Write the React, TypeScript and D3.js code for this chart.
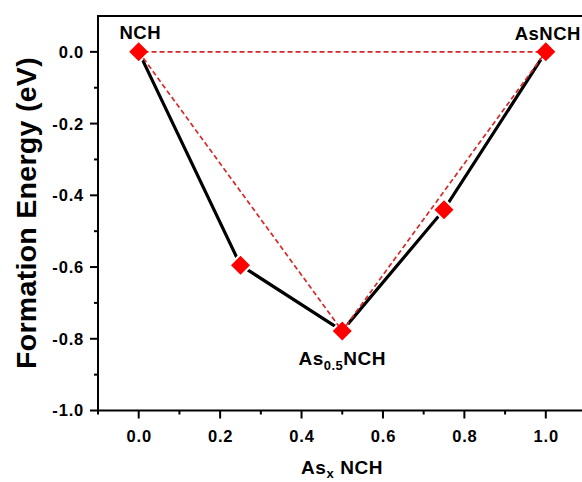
import React from "react";
import * as d3 from "d3";

const xValues = [0, 0.25, 0.5, 0.75, 1.0];
const yValues = [0, -0.595, -0.778, -0.44, 0];
const hullX = [0, 0.5, 1.0, 0];
const hullY = [0, -0.778, 0, 0];
const xTicks = [0, 0.2, 0.4, 0.6, 0.8, 1.0];
const xMinor = [-0.1, 0.1, 0.3, 0.5, 0.7, 0.9, 1.1];
const yTicks = [0, -0.2, -0.4, -0.6, -0.8, -1.0];
const yMinor = [-0.1, -0.3, -0.5, -0.7, -0.9];

const W = 582;
const H = 482;
const FONT = "'Liberation Sans', Arial, sans-serif";

export default function App() {
  const x = d3.scaleLinear().domain([-0.1, 1.1]).range([98, 586.5]);
  const y = d3.scaleLinear().domain([-1.0, 0.1]).range([410.5, 16]);
  const x0 = 98;
  const yb = 410.5;
  const pts = xValues.map((v, i) => [x(v), y(yValues[i])] as [number, number]);
  const hull = hullX.map((v, i) => [x(v), y(hullY[i])] as [number, number]);
  const line = d3.line();
  const dsz = 9.5;
  const diamond = (cx: number, cy: number, s: number) =>
    `M${cx},${cy - s}L${cx + s},${cy}L${cx},${cy + s}L${cx - s},${cy}Z`;

  return (
    <svg width={W} height={H} style={{ position: "absolute", left: 0, top: 0, background: "#fff" }} fontFamily={FONT}>
      <rect x={0} y={0} width={W} height={H} fill="#fff" />
      {/* frame */}
      <line x1={x0} y1={16} x2={W + 10} y2={16} stroke="#000" strokeWidth={2} />
      <line x1={x0} y1={15} x2={x0} y2={yb + 1} stroke="#000" strokeWidth={2} />
      <line x1={x0 - 1} y1={yb} x2={W + 10} y2={yb} stroke="#000" strokeWidth={2} />
      {/* y ticks */}
      {yTicks.map((t) => (
        <g key={"yt" + t}>
          <line x1={x0 - 8} x2={x0} y1={y(t)} y2={y(t)} stroke="#000" strokeWidth={2} />
          <text x={x0 - 14} y={y(t)} dy="0.36em" textAnchor="end" fontSize={16.5} fontWeight="bold" letterSpacing={0.8}>
            {t.toFixed(1)}
          </text>
        </g>
      ))}
      {yMinor.map((t) => (
        <line key={"ym" + t} x1={x0 - 4} x2={x0} y1={y(t)} y2={y(t)} stroke="#000" strokeWidth={2} />
      ))}
      {/* x ticks */}
      {xTicks.map((t) => (
        <g key={"xt" + t}>
          <line x1={x(t)} x2={x(t)} y1={yb} y2={yb + 8} stroke="#000" strokeWidth={2} />
          <text x={x(t) + 0.5} y={yb + 31} textAnchor="middle" fontSize={16.5} fontWeight="bold" letterSpacing={0.8}>
            {t.toFixed(1)}
          </text>
        </g>
      ))}
      {xMinor.map((t) => (
        <line key={"xm" + t} x1={x(t)} x2={x(t)} y1={yb} y2={yb + 4} stroke="#000" strokeWidth={2} />
      ))}
      {/* axis titles */}
      <text
        transform={`translate(36,${213}) rotate(-90)`}
        textAnchor="middle"
        fontSize={28.5}
        fontWeight="bold"
        letterSpacing={0.3}
      >
        Formation Energy (eV)
      </text>
      <text x={342} y={474} textAnchor="middle" fontSize={19} fontWeight="bold" letterSpacing={0.6}>
        As<tspan fontSize={13} dy={4}>x</tspan>
        <tspan dy={-4}> NCH</tspan>
      </text>
      {/* black line */}
      <path d={line(pts) || ""} fill="none" stroke="#000" strokeWidth={3.2} />
      {pts.map((p, i) => (
        <path key={"h" + i} d={diamond(p[0], p[1], dsz + 3)} fill="#fff" />
      ))}
      {/* red dashed hull */}
      <path d={line(hull) || ""} fill="none" stroke="#d42a2a" strokeWidth={1.7} strokeDasharray="5,3" />
      {/* markers */}
      {pts.map((p, i) => (
        <path key={"m" + i} d={diamond(p[0], p[1], dsz)} fill="#ff0000" />
      ))}
      {/* labels */}
      <text x={x(0) + 1.5} y={39} textAnchor="middle" fontSize={18.5} fontWeight="bold" letterSpacing={0.5}>NCH</text>
      <text x={x(1) + 2} y={40} textAnchor="middle" fontSize={18.5} fontWeight="bold" letterSpacing={0.5}>AsNCH</text>
      <text x={x(0.5)} y={365} textAnchor="middle" fontSize={19} fontWeight="bold" letterSpacing={0.5}>
        As<tspan fontSize={13} dy={5}>0.5</tspan>
        <tspan dy={-5}>NCH</tspan>
      </text>
    </svg>
  );
}
